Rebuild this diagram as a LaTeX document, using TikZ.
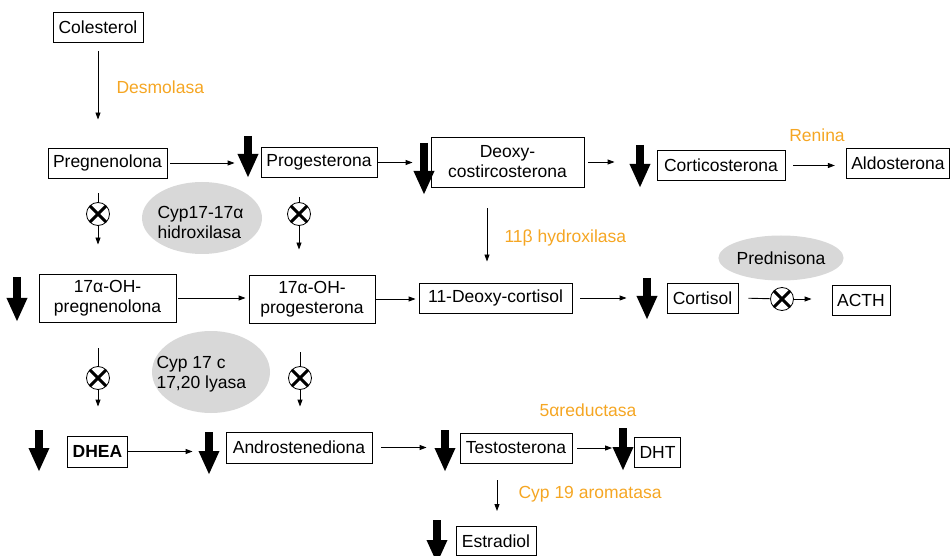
\documentclass[tikz,border=0pt]{standalone}
\usepackage{fontspec}
\setmainfont{Liberation Sans}
\usetikzlibrary{arrows.meta,shapes.geometric,positioning,calc}
\definecolor{enzorange}{HTML}{F5A623}
\definecolor{blobgray}{HTML}{D8D8D8}
\tikzset{
    box/.style={draw, line width=0.9pt, minimum height=30pt, inner xsep=5pt, inner ysep=2pt, align=center},
    enzyme/.style={text=enzorange},
    blob/.style={ellipse, fill=blobgray, inner sep=0pt},
    flow/.style={-{Triangle[length=7pt, width=5pt]}, line width=0.9pt},
    plain/.style={line width=0.9pt},
    drop/.style={line width=8pt, -{Triangle[length=24pt, width=19pt]}},
    xmark/.style={circle, draw, line width=0.8pt, minimum size=23pt, inner sep=0pt,
        path picture={\draw[line width=3pt]
            (path picture bounding box.north west) -- (path picture bounding box.south east)
            (path picture bounding box.north east) -- (path picture bounding box.south west);}}
}

\begin{document}
\begin{tikzpicture}[x=1pt, y=-1pt, font=\fontsize{17.5}{20}\selectfont]
    \useasboundingbox (0,0) rectangle (951,556);

    % row 1
    \node[box, minimum width=90pt] (chol) at (98,27.5) {Colesterol};
    \node[box, minimum width=119pt] (preg) at (107.5,163) {Pregnenolona};
    \node[box, minimum width=116pt] (prog) at (319,162.5) {Progesterona};
    \node[box, minimum width=153pt, minimum height=50pt] (doc) at (507.5,162) {Deoxy-\\costircosterona};
    \node[box, minimum width=128pt] (cortico) at (721,165.5) {Corticosterona};
    \node[box, minimum width=100pt] (aldo) at (898,163) {Aldosterona};

    % row 2
    \node[box, minimum width=137pt, minimum height=48pt] (ohpreg) at (107.5,298) {17α-OH-\\pregnenolona};
    \node[box, minimum width=126pt, minimum height=48pt] (ohprog) at (312,299) {17α-OH-\\progesterona};
    \node[box, minimum width=153pt] (deoxycort) at (495.5,298) {11-Deoxy-cortisol};
    \node[box, minimum width=71pt] (cortisol) at (702.5,298) {Cortisol};
    \node[box, minimum width=58pt] (acth) at (861,300) {ACTH};

    % row 3
    \node[box, minimum width=59pt, minimum height=31pt, font=\fontsize{17.5}{20}\selectfont\bfseries] (dhea) at (97.5,451.5) {DHEA};
    \node[box, minimum width=146pt, minimum height=31pt] (andro) at (299,447.5) {Androstenediona};
    \node[box, minimum width=112pt] (testo) at (516,448) {Testosterona};
    \node[box, minimum width=45pt] (dht) at (657.5,452) {DHT};
    \node[box, minimum width=80pt, minimum height=29pt] (estra) at (496,541) {Estradiol};

    % gray enzyme blobs
    \node[blob, minimum width=120pt, minimum height=72pt] (cypa) at (202,218) {};
    \node[anchor=west, align=left] (cypatxt) at (154,222) {Cyp17-17α\\hidroxilasa};
    \node[blob, minimum width=118pt, minimum height=82pt] (cypb) at (211,372) {};
    \node[anchor=west, align=left] (cypbtxt) at (153,374) {Cyp 17 c\\17,20 lyasa};
    \node[blob, minimum width=115pt, minimum height=45pt] (pred) at (781,258) {Prednisona};

    % blocked steps
    \node[xmark] (xa) at (98,214) {};
    \node[xmark] (xb) at (299,214) {};
    \node[xmark] (xc) at (98,378) {};
    \node[xmark] (xd) at (300,378) {};
    \node[xmark] (xe) at (782,299) {};

    % enzyme labels
    \node[enzyme, anchor=west] (desmo) at (113,87) {Desmolasa};
    \node[enzyme] (renina) at (817,135) {Renina};
    \node[enzyme, anchor=west] (hydrox) at (501,238) {11β hydroxilasa};
    \node[enzyme] (reduct) at (588,410) {5αreductasa};
    \node[enzyme, anchor=west] (aroma) at (515,494) {Cyp 19 aromatasa};

    % connectors
    \draw[flow, shorten <=8pt, shorten >=28pt] (chol.south) -- (chol.south |- preg.north);
    \draw[flow, shorten <=3pt, shorten >=26pt] (preg.east) -- (preg.east -| prog.west);
    \draw[flow, shorten <=1pt, shorten >=18pt] (prog.east) -- (prog.east -| doc.west);
    \draw[flow, shorten <=4pt, shorten >=42pt] (doc.east) -- (doc.east -| cortico.west);
    \draw[flow, shorten <=8pt, shorten >=11pt] (cortico.east) -- (cortico.east -| aldo.west);
    \draw[flow, shorten <=21pt, shorten >=21pt] (doc.south -| 487,0) -- (deoxycort.north -| 487,0);

    \draw[plain, shorten <=15pt] (xa |- preg.south) -- (xa);
    \draw[flow, shorten >=29pt] (xa) -- (xa |- ohpreg.north);
    \draw[plain, shorten <=19pt] (xb |- prog.south) -- (xb);
    \draw[flow, shorten >=25pt] (xb) -- (xb |- ohprog.north);

    \draw[flow, shorten <=2pt, shorten >=3pt] (ohpreg.east) -- (ohpreg.east -| ohprog.west);
    \draw[flow, shorten >=3pt] (ohprog.east) -- (ohprog.east -| deoxycort.west);
    \draw[flow, shorten <=8pt, shorten >=40pt] (deoxycort.east) -- (deoxycort.east -| cortisol.west);
    \draw[plain, shorten <=10pt] (cortisol.east) -- (xe);
    \draw[flow, shorten >=20pt] (xe) -- (xe -| acth.west);

    \draw[plain, shorten <=26pt] (xc |- ohpreg.south) -- (xc);
    \draw[flow, shorten >=29pt] (xc) -- (xc |- dhea.north);
    \draw[plain, shorten <=29pt] (xd |- ohprog.south) -- (xd);
    \draw[flow, shorten >=25pt] (xd) -- (xd |- andro.north);

    \draw[flow, shorten >=33pt] (dhea.east) -- (dhea.east -| andro.west);
    \draw[flow, shorten <=9pt, shorten >=33pt] (andro.east) -- (andro.east -| testo.west);
    \draw[flow, shorten <=5pt, shorten >=22pt] (testo.east) -- (testo.east -| dht.west);
    \draw[flow, shorten <=17pt, shorten >=15pt] (testo.south -| 497,0) -- (estra.north -| 497,0);

    % big down arrows (decreased)
    \foreach \x/\y/\l in {248/136/42, 424/143/52, 640/145/43, 17/277/45, 647/278/42,
                          39/430/42, 209/432/43, 445/430/42, 623/428/43, 437/520/44}
        \draw[drop] (\x,\y) -- ++(0,\l);
\end{tikzpicture}
\end{document}
